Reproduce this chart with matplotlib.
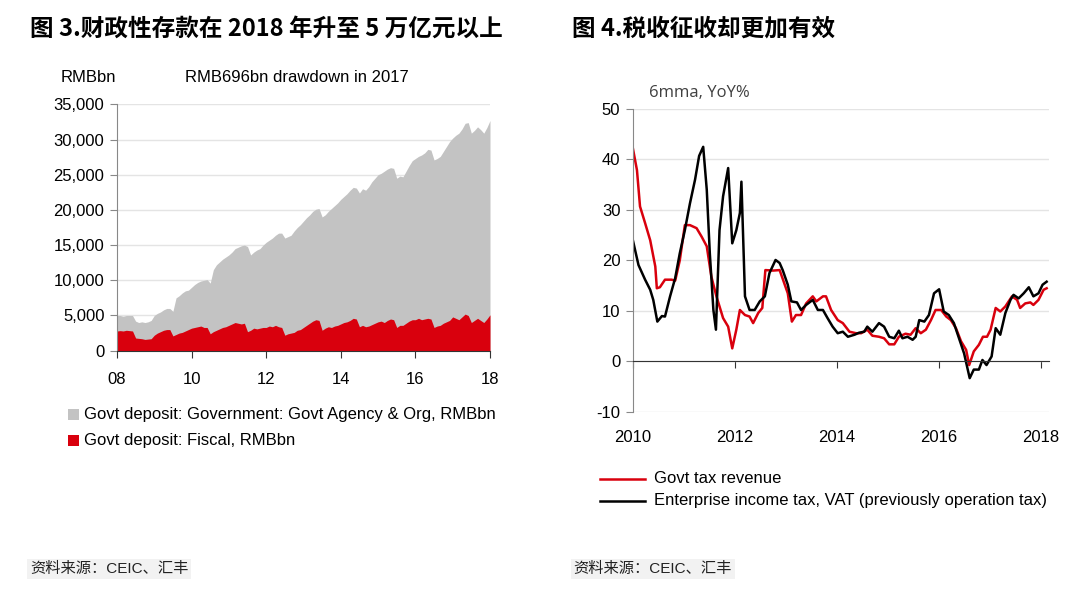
import numpy as np
import matplotlib
matplotlib.use("Agg")
import matplotlib.pyplot as plt
from matplotlib.patches import Rectangle
from matplotlib.lines import Line2D

plt.rcParams['font.family'] = ['Liberation Sans', 'Noto Sans CJK SC', 'DejaVu Sans']
plt.rcParams['axes.unicode_minus'] = False

# ---- Figure 3: government deposits (monthly, Jan 2008 - Jan 2018), RMBbn ----
dep_dates = 2008 + np.arange(121) / 12.0
# top of the grey area (agency & org deposits, stacked over fiscal)
dep_total = [
    5000, 5000, 4900, 5000, 5000, 5000, 4200, 4000, 4100, 4000, 4100, 4300,
    5000, 5300, 5500, 5800, 6000, 6000, 5600, 7500, 7800, 8200, 8500, 8600,
    9000, 9400, 9700, 9900, 10000, 10100, 9600, 11500, 12200, 12600, 13000, 13300,
    13600, 14000, 14500, 14700, 14900, 15000, 14800, 13600, 14000, 14300, 14500, 15000,
    15400, 15700, 16000, 16400, 16700, 16700, 16000, 16200, 16400, 17000, 17500, 17900,
    18400, 18900, 19300, 19800, 20100, 20200, 19000, 19300, 19800, 20200, 20600, 21000,
    21500, 21900, 22300, 22800, 23200, 23100, 22400, 23000, 22800, 23300, 24000, 24500,
    25000, 25200, 25500, 25800, 26000, 25900, 24500, 24800, 24700, 25500, 26300, 27000,
    27300, 27600, 27800, 28100, 28600, 28500, 27100, 27300, 27600, 28300, 29000, 29700,
    30200, 30600, 30900, 31500, 32300, 32400, 30900, 31300, 31800, 31400, 30900, 31700,
    32700,
]
dep_fiscal = [
    2800, 2850, 2800, 2900, 2850, 2800, 1800, 1750, 1700, 1600, 1650, 1700,
    2200, 2500, 2700, 2900, 3000, 3000, 2100, 2300, 2500, 2600, 2800, 3000,
    3200, 3300, 3400, 3500, 3300, 3300, 2400, 2700, 2900, 3100, 3300, 3400,
    3600, 3800, 4000, 3900, 3800, 3900, 2700, 2900, 3200, 3100, 3200, 3300,
    3300, 3500, 3400, 3600, 3400, 3300, 2200, 2400, 2500, 2600, 2900, 3000,
    3300, 3600, 3900, 4200, 4400, 4300, 2900, 3200, 3400, 3300, 3500, 3600,
    3800, 4000, 4100, 4300, 4600, 4500, 3400, 3600, 3400, 3500, 3700, 3900,
    4100, 4200, 4000, 4300, 4500, 4400, 3300, 3600, 3600, 3900, 4200, 4400,
    4400, 4600, 4400, 4500, 4600, 4500, 3300, 3500, 3600, 3900, 4100, 4300,
    4800, 4600, 4400, 4800, 5200, 5000, 4000, 4300, 4600, 4300, 4000, 4500,
    5100,
]
dep_yticks = [0, 5000, 10000, 15000, 20000, 25000, 30000, 35000]
dep_xticks = [2008, 2010, 2012, 2014, 2016, 2018]
dep_xlabels = ['08', '10', '12', '14', '16', '18']

# ---- Figure 4: tax revenue growth, 6mma YoY% ----
rev_dates = [2010.0, 2010.08, 2010.14, 2010.24, 2010.34, 2010.44, 2010.47, 2010.53, 2010.63,
             2010.76, 2010.83, 2010.92, 2011.02, 2011.12, 2011.25, 2011.35, 2011.45, 2011.54,
             2011.64, 2011.77, 2011.87, 2011.95, 2012.03, 2012.1, 2012.2, 2012.29, 2012.36,
             2012.46, 2012.54, 2012.6, 2012.75, 2012.88, 2013.04, 2013.12, 2013.2, 2013.3,
             2013.4, 2013.53, 2013.6, 2013.73, 2013.79, 2013.89, 2014.02, 2014.12, 2014.25,
             2014.38, 2014.48, 2014.6, 2014.7, 2014.83, 2014.93, 2015.03, 2015.13, 2015.22,
             2015.35, 2015.45, 2015.55, 2015.65, 2015.75, 2015.85, 2015.94, 2016.05, 2016.15,
             2016.24, 2016.34, 2016.44, 2016.54, 2016.6, 2016.69, 2016.79, 2016.87, 2016.95,
             2017.02, 2017.12, 2017.21, 2017.31, 2017.44, 2017.54, 2017.6, 2017.7, 2017.8,
             2017.86, 2017.96, 2018.06, 2018.12]
rev_total = [42.2, 37.9, 30.7, 27.4, 24.0, 18.8, 14.5, 14.7, 16.2,
             16.2, 16.0, 20.0, 27.0, 27.0, 26.4, 24.7, 22.8, 16.8,
             12.9, 8.6, 6.9, 2.6, 6.3, 10.2, 9.2, 8.9, 7.6,
             9.6, 10.6, 18.1, 18.0, 18.1, 13.5, 7.9, 9.2, 9.2,
             11.5, 12.9, 11.9, 12.9, 12.9, 10.2, 8.2, 7.6, 5.9,
             5.6, 5.6, 6.3, 5.1, 4.9, 4.6, 3.4, 3.4, 4.9,
             5.5, 5.3, 6.6, 5.6, 6.3, 8.2, 10.2, 10.2, 8.9,
             8.2, 6.6, 4.0, 2.3, -0.7, 2.0, 3.3, 4.9, 4.9,
             6.3, 10.6, 9.9, 10.9, 12.9, 12.2, 10.6, 11.5, 11.7,
             11.2, 12.2, 14.2, 14.5]

ent_dates = [2010.0, 2010.11, 2010.24, 2010.34, 2010.4, 2010.48, 2010.57, 2010.63, 2010.73,
             2010.83, 2010.92, 2011.02, 2011.12, 2011.22, 2011.3, 2011.38, 2011.45, 2011.51,
             2011.58, 2011.63, 2011.7, 2011.77, 2011.87, 2011.95, 2012.03, 2012.1, 2012.13,
             2012.2, 2012.29, 2012.39, 2012.49, 2012.59, 2012.68, 2012.8, 2012.88, 2012.94,
             2013.04, 2013.11, 2013.22, 2013.3, 2013.4, 2013.53, 2013.63, 2013.73, 2013.82,
             2013.92, 2014.02, 2014.12, 2014.22, 2014.35, 2014.44, 2014.54, 2014.6, 2014.7,
             2014.83, 2014.93, 2015.03, 2015.13, 2015.22, 2015.29, 2015.39, 2015.49, 2015.55,
             2015.62, 2015.72, 2015.81, 2015.91, 2016.01, 2016.1, 2016.2, 2016.3, 2016.4,
             2016.5, 2016.61, 2016.69, 2016.79, 2016.86, 2016.94, 2017.04, 2017.12, 2017.21,
             2017.31, 2017.41, 2017.47, 2017.57, 2017.67, 2017.77, 2017.86, 2017.96, 2018.04,
             2018.12]
ent_tax = [24.0, 19.1, 16.2, 14.2, 12.2, 7.9, 9.0, 8.9, 12.9,
           16.5, 21.4, 26.0, 31.3, 36.0, 40.7, 42.5, 34.0, 21.4,
           10.2, 6.3, 26.0, 32.7, 38.3, 23.4, 26.0, 29.4, 35.6,
           12.9, 10.2, 10.2, 11.9, 12.9, 17.5, 20.1, 19.5, 18.1,
           15.2, 11.9, 11.7, 10.2, 11.2, 12.2, 10.2, 10.2, 8.6,
           6.9, 5.6, 5.9, 4.9, 5.3, 5.7, 5.9, 6.9, 5.9,
           7.6, 6.9, 4.9, 4.6, 6.1, 4.6, 4.9, 4.3, 4.9,
           8.2, 7.9, 9.2, 13.5, 14.3, 9.9, 9.2, 7.6, 4.6,
           1.6, -3.3, -1.6, -1.6, 0.3, -0.7, 1.0, 6.6, 5.3,
           9.6, 12.2, 13.2, 12.5, 13.5, 14.7, 12.9, 13.5, 15.2,
           15.8]
tax_yticks = [-10, 0, 10, 20, 30, 40, 50]
tax_xticks = [2010, 2012, 2014, 2016, 2018]

GREY = '#c3c3c3'
RED = '#d9000d'
SPINE = '#888888'
GRID = '#e4e4e4'

fig = plt.figure(figsize=(10.8, 5.89), dpi=100)

# ---------------- left chart ----------------
ax1 = fig.add_axes([0.1083, 0.4046, 0.3454, 0.4183])
ax1.fill_between(dep_dates, 0, dep_total, color=GREY, lw=0)
ax1.fill_between(dep_dates, 0, dep_fiscal, color=RED, lw=0)
ax1.set_xlim(2008, 2018)
ax1.set_ylim(0, 35000)
ax1.set_yticks(dep_yticks)
ax1.set_yticklabels([f'{v:,}' for v in dep_yticks])
ax1.set_xticks(dep_xticks)
ax1.set_xticklabels(dep_xlabels)
ax1.yaxis.grid(True, color=GRID, lw=1)
ax1.set_axisbelow(True)
for s in ['top', 'right']:
    ax1.spines[s].set_visible(False)
ax1.spines['left'].set_color(SPINE)
ax1.spines['bottom'].set_color('#333333')
ax1.tick_params(axis='y', length=5, color=SPINE, labelsize=12, pad=4)
ax1.tick_params(axis='x', length=5, color='#333333', labelsize=12, pad=10)

fig.text(0.028, 0.952, '图 3.财政性存款在 2018 年升至 5 万亿元以上', fontsize=17,
         fontweight='bold', family=['Noto Sans CJK SC'], va='center')
fig.text(0.056, 0.868, 'RMBbn', fontsize=12, va='center')
fig.text(0.171, 0.868, 'RMB696bn drawdown in 2017', fontsize=12, va='center')

# legend for the left chart
fig.patches.append(Rectangle((0.0625, 0.287), 0.0105, 0.0185, transform=fig.transFigure,
                             color=GREY, lw=0))
fig.patches.append(Rectangle((0.0625, 0.243), 0.0105, 0.0185, transform=fig.transFigure,
                             color=RED, lw=0))
fig.text(0.0775, 0.296, 'Govt deposit: Government: Govt Agency & Org, RMBbn', fontsize=12,
         va='center')
fig.text(0.0775, 0.252, 'Govt deposit: Fiscal, RMBbn', fontsize=12, va='center')

# ---------------- right chart ----------------
ax2 = fig.add_axes([0.586, 0.3005, 0.385, 0.5145])
ax2.plot(rev_dates, rev_total, color=RED, lw=1.8)
ax2.plot(ent_dates, ent_tax, color='black', lw=1.8)
ax2.set_xlim(2010, 2018.16)
ax2.set_ylim(-10, 50)
ax2.set_yticks(tax_yticks)
ax2.yaxis.grid(True, color=GRID, lw=1)
ax2.set_axisbelow(True)
for s in ['top', 'right']:
    ax2.spines[s].set_visible(False)
ax2.spines['left'].set_color(SPINE)
ax2.spines['bottom'].set_position(('data', 0))
ax2.spines['bottom'].set_color('#333333')
ax2.set_xticks(tax_xticks)
ax2.tick_params(axis='x', length=5, color='#333333', labelbottom=False)
ax2.tick_params(axis='y', length=5, color=SPINE, labelsize=12, pad=4)
sec = ax2.secondary_xaxis(0)
sec.set_xticks(tax_xticks)
sec.tick_params(length=0, labelsize=12, pad=13)
sec.spines['bottom'].set_visible(False)

fig.text(0.530, 0.952, '图 4.税收征收却更加有效', fontsize=17, fontweight='bold',
         family=['Noto Sans CJK SC'], va='center')
fig.text(0.601, 0.842, '6mma, YoY%', fontsize=12, family=['Open Sans'], color='#404040',
         va='center')

fig.add_artist(Line2D([0.556, 0.597], [0.187, 0.187], transform=fig.transFigure,
                      color=RED, lw=1.8))
fig.add_artist(Line2D([0.556, 0.597], [0.150, 0.150], transform=fig.transFigure,
                      color='black', lw=1.8))
fig.text(0.606, 0.187, 'Govt tax revenue', fontsize=12, va='center')
fig.text(0.606, 0.150, 'Enterprise income tax, VAT (previously operation tax)', fontsize=12,
         va='center')

# sources
for xs in [0.028, 0.531]:
    fig.text(xs, 0.034, '资料来源：CEIC、汇丰', fontsize=11,
             family=['Liberation Sans', 'Noto Sans CJK SC'],
             color='#222222', va='center',
             bbox=dict(facecolor='#f2f2f2', edgecolor='none', pad=2))

fig.savefig('out.png', dpi=100)
